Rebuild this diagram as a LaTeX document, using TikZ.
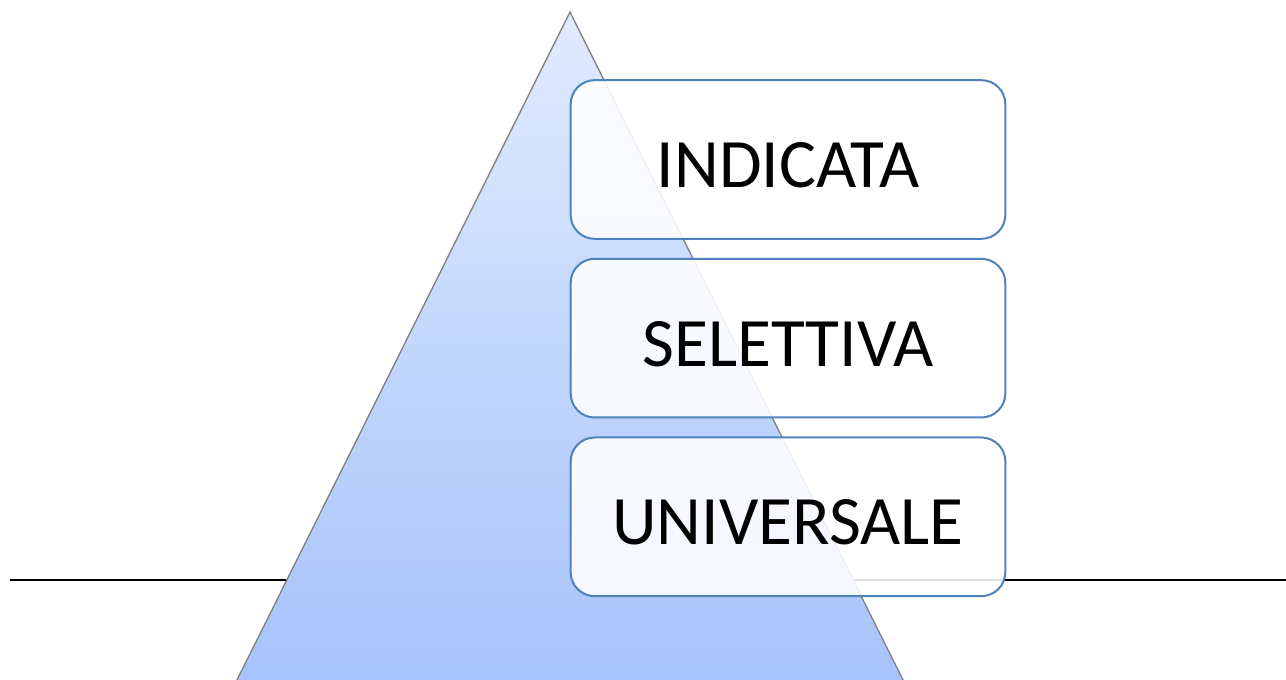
\documentclass[tikz,border=0pt]{standalone}
\usepackage{fontspec}
\setmainfont{Carlito}
\usetikzlibrary{positioning}
\usetikzlibrary{math}

\definecolor{boxblue}{HTML}{4F81BD}
\definecolor{pyrtop}{HTML}{E1EBFD}
\definecolor{pyrbottom}{HTML}{A6C3FB}

\tikzset{
  levelbox/.style={draw=boxblue, line width=1.5pt, fill=white, fill opacity=0.88,
    text opacity=1, rounded corners=18pt, minimum width=326pt, minimum height=119pt,
    font=\fontsize{52}{60}\selectfont, inner sep=0pt, text height=42pt, text depth=0pt},
}

\begin{document}
\begin{tikzpicture}[x=0.75pt, y=-0.75pt]
\useasboundingbox (0,0) rectangle (1286,680);

\tikzmath{
\apexx = 570;
\apexy = 12;
\baseleft = 237;
\baseright = 903;
\basey = 680;
\groundy = 580;
}

%ground line
\coordinate (groundL) at (10,\groundy);
\coordinate (groundR) at (1286,\groundy);
\draw[black, line width=0.9pt] (groundL) -- (groundR);

%pyramid
\shade[top color=pyrtop, bottom color=pyrbottom]
  (\baseleft,\basey) -- (\apexx,\apexy) -- (\baseright,\basey) -- cycle;
\draw[gray, line width=1pt] (\baseleft,\basey) -- (\apexx,\apexy) -- (\baseright,\basey);

%levels
\node[levelbox] (indicata) at (788,159.5) {INDICATA};
\node[levelbox, below=13.5pt of indicata] (selettiva) {SELETTIVA};
\node[levelbox, below=13.5pt of selettiva] (universale) {UNIVERSALE};

\end{tikzpicture}
\end{document}
